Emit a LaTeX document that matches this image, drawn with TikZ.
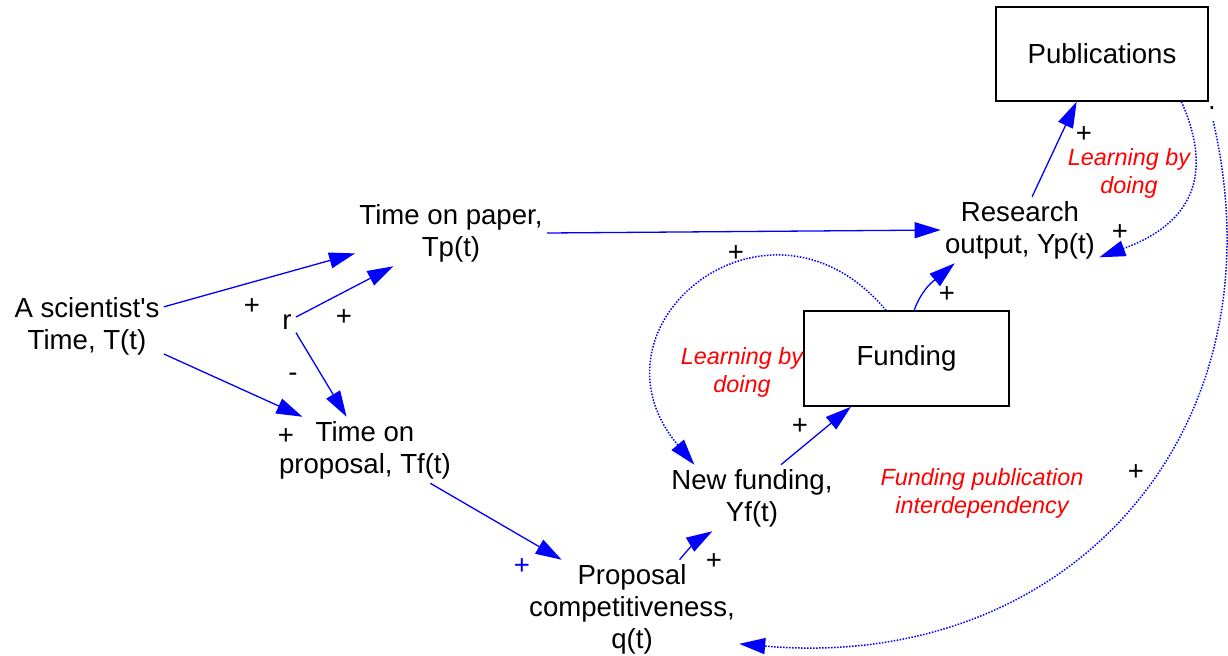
\documentclass[tikz,border=0pt]{standalone}
\usepackage{fontspec}
\setmainfont{Liberation Sans}
\usetikzlibrary{arrows.meta}

\begin{document}
\begin{tikzpicture}[x=0.5pt,y=-0.5pt,
        var/.style={align=center,inner sep=2pt,font=\fontsize{13.8}{16}\selectfont},
        level/.style={draw,line width=0.7pt,inner sep=0pt,font=\fontsize{13.8}{16}\selectfont},
        sign/.style={inner sep=0pt,font=\fontsize{13.8}{16}\selectfont},
        note/.style={align=center,inner sep=0pt,text=red,font=\fontsize{11.7}{14}\selectfont\itshape},
        link/.style={blue,line width=0.65pt,-{Triangle[length=13pt,width=8pt]}},
        loop/.style={link,line width=0.75pt,dash pattern=on 0.75pt off 0.75pt}]
            \useasboundingbox (0,0) rectangle (1228,655);
            \node[var] (sci) at (87,326) {A scientist{\textquotesingle}s\\Time, T(t)};
            \node[var] (tp) at (451,233) {Time on paper,\\Tp(t)};
            \node[var] (r) at (287,322) {r};
            \node[var] (tf) at (365,450) {Time on\\proposal, Tf(t)};
            \node[var] (res) at (1020,230) {Research\\output, Yp(t)};
            \node[var] (nf) at (752,498) {New funding,\\Yf(t)};
            \node[var] (prop) at (632,609) {Proposal\\competitiveness,\\q(t)};
            \node[level,minimum width=106pt,minimum height=47pt] (pub) at (1102,54) {Publications};
            \node[level,minimum width=102.5pt,minimum height=47.5pt] (fund) at (906.5,358.5) {Funding};
            \node[note] (lbdp) at (1129,173) {Learning by\\doing};
            \node[note] (lbdf) at (742,372) {Learning by\\doing};
            \node[note] (fpi) at (982,493) {Funding publication\\interdependency};
            \node[sign] (dot) at (1212,108) {.};
            \node[sign] (s1) at (252,307) {+};
            \node[sign] (s2) at (344,318) {+};
            \node[sign] (s3) at (293,377) {-};
            \node[sign] (s4) at (286,437) {+};
            \node[sign,text=blue] (s5) at (522,567) {+};
            \node[sign] (s6) at (714,562) {+};
            \node[sign] (s7) at (800,427) {+};
            \node[sign] (s8) at (736,254) {+};
            \node[sign] (s9) at (947,295) {+};
            \node[sign] (s10) at (1084,135) {+};
            \node[sign] (s11) at (1120,233) {+};
            \node[sign] (s12) at (1136,473) {+};
            \draw[link] (sci.14) -- (tp.192);
            \draw[link] (sci.-20) -- (tf.152);
            \draw[link] (r.29) -- (tp.210);
            \draw[link] (r.-50) -- (tf.119);
            \draw[link] (tp.east) -- (res.west);
            \draw[link] (tf.-27) -- (prop.145);
            \draw[link] (prop.46) to[bend left=10] (nf.220);
            \draw[link] (nf.49) -- (fund.221);
            \draw[link] (fund.81) to[out=70,in=220] (res.207);
            \draw[link] (res.70) -- (pub.242);
            \draw[loop] (pub.-31) to[out=-66,in=20,looseness=1.3] (res.-19);
            \draw[loop] (fund.113) to[out=130,in=130,looseness=1.9] (nf.150);
            \draw[loop,shorten <=10pt] (pub.south east) to[out=-77,in=-5,out distance=170pt,in distance=165pt] (prop.-18);
        \end{tikzpicture}
\end{document}
